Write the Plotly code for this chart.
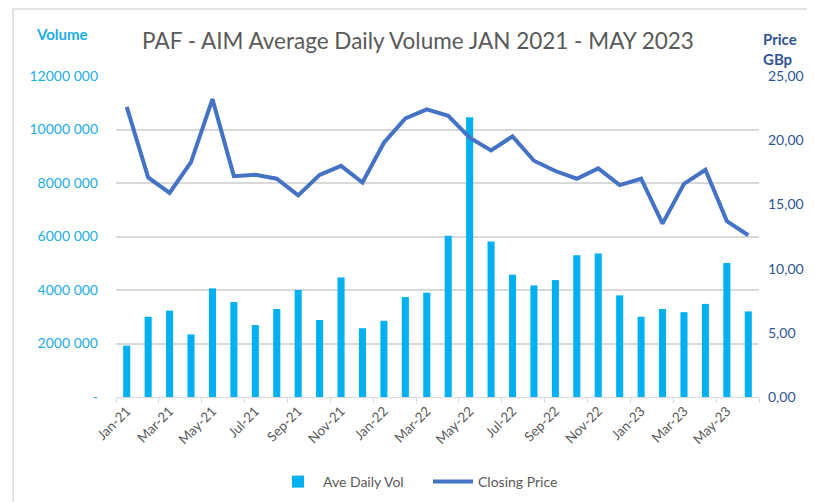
import plotly.graph_objects as go

months = ["Jan-21", "Feb-21", "Mar-21", "Apr-21", "May-21", "Jun-21", "Jul-21", "Aug-21",
          "Sep-21", "Oct-21", "Nov-21", "Dec-21", "Jan-22", "Feb-22", "Mar-22", "Apr-22",
          "May-22", "Jun-22", "Jul-22", "Aug-22", "Sep-22", "Oct-22", "Nov-22", "Dec-22",
          "Jan-23", "Feb-23", "Mar-23", "Apr-23", "May-23", "Jun-23"]

ave_daily_vol = [1920000, 3000000, 3230000, 2340000, 4060000, 3550000, 2690000, 3290000,
                 4000000, 2880000, 4470000, 2570000, 2850000, 3740000, 3900000, 6030000,
                 10460000, 5810000, 4570000, 4170000, 4370000, 5300000, 5360000, 3800000,
                 3000000, 3290000, 3170000, 3480000, 5010000, 3200000]

closing_price = [22.6, 17.1, 15.9, 18.3, 23.2, 17.2, 17.3, 17.0, 15.7, 17.3, 18.0, 16.7,
                 19.8, 21.7, 22.4, 21.9, 20.2, 19.2, 20.3, 18.4, 17.6, 17.0, 17.8, 16.5,
                 17.0, 13.5, 16.6, 17.7, 13.7, 12.6]

vol_tickvals = [0, 2000000, 4000000, 6000000, 8000000, 10000000, 12000000]
vol_ticktext = ["-", "2000 000", "4000 000", "6000 000", "8000 000", "10000 000", "12000 000"]
price_tickvals = [0, 5, 10, 15, 20, 25]
price_ticktext = ["0,00", "5,00", "10,00", "15,00", "20,00", "25,00"]

FONT = "Lato"
BAR_C = "#00B0F0"
LINE_C = "#4472C4"
GRID_C = "#D9D9D9"

# the page body has an 8px margin, so figure coords = screen coords - 8
OFF = 8
PL, PR, PT, PB = 116 - OFF, 759.5 - OFF, 76 - OFF, 397 - OFF
PW, PH = PR - PL, PB - PT

fig = go.Figure()
fig.add_trace(go.Bar(x=months, y=ave_daily_vol, name="Ave Daily Vol",
                     marker=dict(color=BAR_C, line=dict(width=0)), yaxis="y"))
fig.add_trace(go.Scatter(x=months, y=closing_price, name="Closing Price", mode="lines",
                         line=dict(color=LINE_C, width=4), yaxis="y2"))

fig.update_layout(
    width=815, height=502,
    margin=dict(l=PL, r=815 - PR, t=PT, b=502 - PB, autoexpand=False),
    paper_bgcolor="white", plot_bgcolor="white",
    font=dict(family=FONT, color="#595959", size=13),
    bargap=0.67,
    showlegend=True,
    legend=dict(orientation="h", xref="container", yref="container",
                x=(421 - OFF + 7) / 815, xanchor="center", y=1 - (482 - OFF) / 502,
                yanchor="middle", entrywidth=100, entrywidthmode="pixels",
                font=dict(size=14, color="#595959"), traceorder="normal",
                itemwidth=40, bgcolor="rgba(0,0,0,0)"),
    xaxis=dict(type="category", dtick=2, tickson="boundaries", ticks="outside",
               ticklen=5, tickcolor=GRID_C, showline=True, linecolor=GRID_C, linewidth=1,
               showgrid=False, tickangle=-45, tickfont=dict(size=13.5, color="#595959"),
               range=[-0.5, 29.5], automargin=False),
    yaxis=dict(range=[0, 12000000], tickvals=vol_tickvals, ticktext=vol_ticktext,
               showgrid=True, gridcolor=GRID_C, gridwidth=1.5, zeroline=False,
               showline=False, tickfont=dict(size=14, color="#1CADE4"),
               ticklabelstandoff=17, automargin=False),
    yaxis2=dict(range=[0, 25], tickvals=price_tickvals, ticktext=price_ticktext,
                overlaying="y", side="right", showgrid=False, zeroline=False,
                showline=False, tickfont=dict(size=14, color="#2F5597"),
                ticklabelstandoff=8, automargin=False),
    title=dict(text="PAF - AIM Average Daily Volume JAN 2021 - MAY 2023",
               x=(418 - OFF) / 815, xref="container", xanchor="center",
               y=1 - (41 - OFF) / 502, yref="container", yanchor="middle",
               font=dict(size=22.5, color="#595959", family=FONT)),
)

fig.add_annotation(text="<b>Volume</b>", xref="paper", yref="paper",
                   x=(62 - 116) / PW, y=1 + (76 - 34) / PH, xanchor="center", yanchor="middle",
                   showarrow=False, font=dict(size=15, color="#1CADE4", family=FONT))
fig.add_annotation(text="<b>Price<br>GBp</b>", xref="paper", yref="paper",
                   x=(762 - 759.5) / PW + 1, y=1 + (76 - 49) / PH, xanchor="left",
                   yanchor="middle", align="left", showarrow=False,
                   font=dict(size=15, color="#2F5597", family=FONT))

fig.add_shape(type="rect", xref="paper", yref="paper",
              x0=(13 - 116) / PW, x1=1 + (830 - 759.5) / PW,
              y0=-(520 - 397) / PH, y1=1 + (76 - 9) / PH,
              line=dict(color=GRID_C, width=1.5), fillcolor="rgba(0,0,0,0)", layer="below")

fig.write_html("out.html")
